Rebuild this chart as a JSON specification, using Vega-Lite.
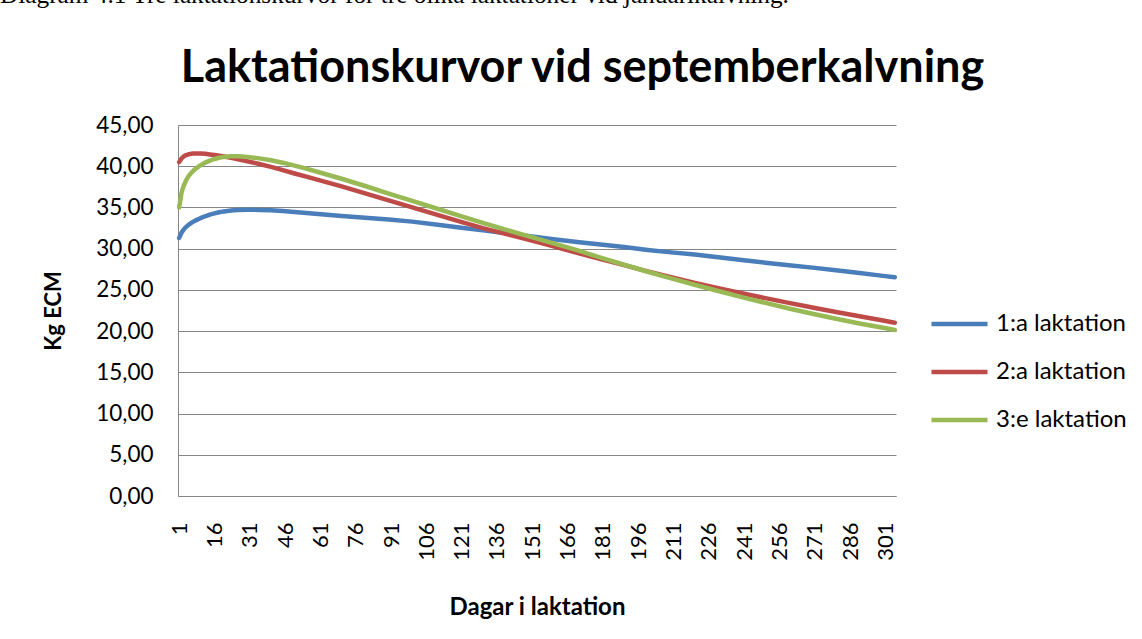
{
  "$schema": "https://vega.github.io/schema/vega-lite/v6.json",
  "width": 718,
  "height": 371,
  "autosize": {"type": "none"},
  "padding": {"left": 178, "top": 125, "right": 246, "bottom": 143},
  "background": "white",
  "title": {
    "text": "Diagram 4.1 Tre laktationskurvor för tre olika laktationer vid januarikalvning.",
    "anchor": "start",
    "frame": "bounds",
    "font": "Liberation Serif",
    "fontSize": 25.3,
    "fontWeight": "normal",
    "color": "#000000",
    "baseline": "alphabetic",
    "offset": 17,
    "dx": -42
  },
  "config": {
    "view": {"stroke": null},
    "axis": {"tickSize": 0}
  },
  "data": {
    "values": [
      {"dag": 1, "laktation": "1:a laktation", "kg": 31.3},
      {"dag": 2, "laktation": "1:a laktation", "kg": 31.95},
      {"dag": 3, "laktation": "1:a laktation", "kg": 32.35},
      {"dag": 4, "laktation": "1:a laktation", "kg": 32.65},
      {"dag": 5, "laktation": "1:a laktation", "kg": 32.9},
      {"dag": 6, "laktation": "1:a laktation", "kg": 33.1},
      {"dag": 7, "laktation": "1:a laktation", "kg": 33.28},
      {"dag": 8, "laktation": "1:a laktation", "kg": 33.43},
      {"dag": 10, "laktation": "1:a laktation", "kg": 33.7},
      {"dag": 12, "laktation": "1:a laktation", "kg": 33.93},
      {"dag": 14, "laktation": "1:a laktation", "kg": 34.12},
      {"dag": 16, "laktation": "1:a laktation", "kg": 34.28},
      {"dag": 18, "laktation": "1:a laktation", "kg": 34.42},
      {"dag": 20, "laktation": "1:a laktation", "kg": 34.52},
      {"dag": 23, "laktation": "1:a laktation", "kg": 34.63},
      {"dag": 26, "laktation": "1:a laktation", "kg": 34.7},
      {"dag": 30, "laktation": "1:a laktation", "kg": 34.72},
      {"dag": 35, "laktation": "1:a laktation", "kg": 34.7},
      {"dag": 40, "laktation": "1:a laktation", "kg": 34.65},
      {"dag": 45, "laktation": "1:a laktation", "kg": 34.56},
      {"dag": 50, "laktation": "1:a laktation", "kg": 34.45},
      {"dag": 55, "laktation": "1:a laktation", "kg": 34.33},
      {"dag": 60, "laktation": "1:a laktation", "kg": 34.2},
      {"dag": 70, "laktation": "1:a laktation", "kg": 33.97},
      {"dag": 80, "laktation": "1:a laktation", "kg": 33.75},
      {"dag": 90, "laktation": "1:a laktation", "kg": 33.53},
      {"dag": 100, "laktation": "1:a laktation", "kg": 33.28},
      {"dag": 110, "laktation": "1:a laktation", "kg": 32.93},
      {"dag": 120, "laktation": "1:a laktation", "kg": 32.58},
      {"dag": 130, "laktation": "1:a laktation", "kg": 32.22},
      {"dag": 140, "laktation": "1:a laktation", "kg": 31.86},
      {"dag": 150, "laktation": "1:a laktation", "kg": 31.5},
      {"dag": 160, "laktation": "1:a laktation", "kg": 31.15},
      {"dag": 170, "laktation": "1:a laktation", "kg": 30.82},
      {"dag": 180, "laktation": "1:a laktation", "kg": 30.5},
      {"dag": 190, "laktation": "1:a laktation", "kg": 30.2},
      {"dag": 200, "laktation": "1:a laktation", "kg": 29.85},
      {"dag": 210, "laktation": "1:a laktation", "kg": 29.55},
      {"dag": 220, "laktation": "1:a laktation", "kg": 29.28},
      {"dag": 230, "laktation": "1:a laktation", "kg": 28.95},
      {"dag": 240, "laktation": "1:a laktation", "kg": 28.62},
      {"dag": 250, "laktation": "1:a laktation", "kg": 28.3},
      {"dag": 260, "laktation": "1:a laktation", "kg": 28.0},
      {"dag": 270, "laktation": "1:a laktation", "kg": 27.7},
      {"dag": 280, "laktation": "1:a laktation", "kg": 27.38},
      {"dag": 290, "laktation": "1:a laktation", "kg": 27.05},
      {"dag": 300, "laktation": "1:a laktation", "kg": 26.7},
      {"dag": 305, "laktation": "1:a laktation", "kg": 26.53},
      {"dag": 1, "laktation": "2:a laktation", "kg": 40.5},
      {"dag": 2, "laktation": "2:a laktation", "kg": 40.95},
      {"dag": 3, "laktation": "2:a laktation", "kg": 41.2},
      {"dag": 4, "laktation": "2:a laktation", "kg": 41.35},
      {"dag": 5, "laktation": "2:a laktation", "kg": 41.45},
      {"dag": 6, "laktation": "2:a laktation", "kg": 41.5},
      {"dag": 7, "laktation": "2:a laktation", "kg": 41.53},
      {"dag": 8, "laktation": "2:a laktation", "kg": 41.55},
      {"dag": 10, "laktation": "2:a laktation", "kg": 41.55},
      {"dag": 12, "laktation": "2:a laktation", "kg": 41.5},
      {"dag": 14, "laktation": "2:a laktation", "kg": 41.43},
      {"dag": 16, "laktation": "2:a laktation", "kg": 41.35},
      {"dag": 18, "laktation": "2:a laktation", "kg": 41.27},
      {"dag": 20, "laktation": "2:a laktation", "kg": 41.18},
      {"dag": 23, "laktation": "2:a laktation", "kg": 41.02},
      {"dag": 26, "laktation": "2:a laktation", "kg": 40.85},
      {"dag": 30, "laktation": "2:a laktation", "kg": 40.6},
      {"dag": 35, "laktation": "2:a laktation", "kg": 40.27},
      {"dag": 40, "laktation": "2:a laktation", "kg": 39.92},
      {"dag": 45, "laktation": "2:a laktation", "kg": 39.52},
      {"dag": 50, "laktation": "2:a laktation", "kg": 39.12},
      {"dag": 55, "laktation": "2:a laktation", "kg": 38.73},
      {"dag": 60, "laktation": "2:a laktation", "kg": 38.35},
      {"dag": 70, "laktation": "2:a laktation", "kg": 37.55},
      {"dag": 80, "laktation": "2:a laktation", "kg": 36.7},
      {"dag": 90, "laktation": "2:a laktation", "kg": 35.85},
      {"dag": 100, "laktation": "2:a laktation", "kg": 35.0},
      {"dag": 110, "laktation": "2:a laktation", "kg": 34.15},
      {"dag": 120, "laktation": "2:a laktation", "kg": 33.3},
      {"dag": 130, "laktation": "2:a laktation", "kg": 32.5},
      {"dag": 140, "laktation": "2:a laktation", "kg": 31.77},
      {"dag": 150, "laktation": "2:a laktation", "kg": 31.03},
      {"dag": 160, "laktation": "2:a laktation", "kg": 30.28},
      {"dag": 170, "laktation": "2:a laktation", "kg": 29.5},
      {"dag": 180, "laktation": "2:a laktation", "kg": 28.75},
      {"dag": 190, "laktation": "2:a laktation", "kg": 28.0},
      {"dag": 200, "laktation": "2:a laktation", "kg": 27.25},
      {"dag": 210, "laktation": "2:a laktation", "kg": 26.55},
      {"dag": 220, "laktation": "2:a laktation", "kg": 25.85},
      {"dag": 230, "laktation": "2:a laktation", "kg": 25.2},
      {"dag": 240, "laktation": "2:a laktation", "kg": 24.6},
      {"dag": 250, "laktation": "2:a laktation", "kg": 24.0},
      {"dag": 260, "laktation": "2:a laktation", "kg": 23.42},
      {"dag": 270, "laktation": "2:a laktation", "kg": 22.86},
      {"dag": 280, "laktation": "2:a laktation", "kg": 22.32},
      {"dag": 290, "laktation": "2:a laktation", "kg": 21.8},
      {"dag": 300, "laktation": "2:a laktation", "kg": 21.28},
      {"dag": 305, "laktation": "2:a laktation", "kg": 21.02},
      {"dag": 1, "laktation": "3:e laktation", "kg": 35.0},
      {"dag": 2, "laktation": "3:e laktation", "kg": 36.8},
      {"dag": 3, "laktation": "3:e laktation", "kg": 37.7},
      {"dag": 4, "laktation": "3:e laktation", "kg": 38.3},
      {"dag": 5, "laktation": "3:e laktation", "kg": 38.8},
      {"dag": 6, "laktation": "3:e laktation", "kg": 39.15},
      {"dag": 7, "laktation": "3:e laktation", "kg": 39.45},
      {"dag": 8, "laktation": "3:e laktation", "kg": 39.7},
      {"dag": 10, "laktation": "3:e laktation", "kg": 40.1},
      {"dag": 12, "laktation": "3:e laktation", "kg": 40.43},
      {"dag": 14, "laktation": "3:e laktation", "kg": 40.68},
      {"dag": 16, "laktation": "3:e laktation", "kg": 40.88},
      {"dag": 18, "laktation": "3:e laktation", "kg": 41.03},
      {"dag": 20, "laktation": "3:e laktation", "kg": 41.13},
      {"dag": 23, "laktation": "3:e laktation", "kg": 41.2},
      {"dag": 26, "laktation": "3:e laktation", "kg": 41.2},
      {"dag": 30, "laktation": "3:e laktation", "kg": 41.12},
      {"dag": 35, "laktation": "3:e laktation", "kg": 40.95},
      {"dag": 40, "laktation": "3:e laktation", "kg": 40.72},
      {"dag": 45, "laktation": "3:e laktation", "kg": 40.43},
      {"dag": 50, "laktation": "3:e laktation", "kg": 40.08},
      {"dag": 55, "laktation": "3:e laktation", "kg": 39.7},
      {"dag": 60, "laktation": "3:e laktation", "kg": 39.3},
      {"dag": 70, "laktation": "3:e laktation", "kg": 38.48},
      {"dag": 80, "laktation": "3:e laktation", "kg": 37.6},
      {"dag": 90, "laktation": "3:e laktation", "kg": 36.68},
      {"dag": 100, "laktation": "3:e laktation", "kg": 35.8},
      {"dag": 110, "laktation": "3:e laktation", "kg": 34.9},
      {"dag": 120, "laktation": "3:e laktation", "kg": 34.0},
      {"dag": 130, "laktation": "3:e laktation", "kg": 33.12},
      {"dag": 140, "laktation": "3:e laktation", "kg": 32.28},
      {"dag": 150, "laktation": "3:e laktation", "kg": 31.45},
      {"dag": 160, "laktation": "3:e laktation", "kg": 30.65},
      {"dag": 170, "laktation": "3:e laktation", "kg": 29.82},
      {"dag": 180, "laktation": "3:e laktation", "kg": 28.92},
      {"dag": 190, "laktation": "3:e laktation", "kg": 28.05},
      {"dag": 200, "laktation": "3:e laktation", "kg": 27.2},
      {"dag": 210, "laktation": "3:e laktation", "kg": 26.4},
      {"dag": 220, "laktation": "3:e laktation", "kg": 25.62},
      {"dag": 230, "laktation": "3:e laktation", "kg": 24.86},
      {"dag": 240, "laktation": "3:e laktation", "kg": 24.12},
      {"dag": 250, "laktation": "3:e laktation", "kg": 23.42},
      {"dag": 260, "laktation": "3:e laktation", "kg": 22.75},
      {"dag": 270, "laktation": "3:e laktation", "kg": 22.1},
      {"dag": 280, "laktation": "3:e laktation", "kg": 21.5},
      {"dag": 290, "laktation": "3:e laktation", "kg": 20.93},
      {"dag": 300, "laktation": "3:e laktation", "kg": 20.4},
      {"dag": 305, "laktation": "3:e laktation", "kg": 20.14}
    ]
  },
  "encoding": {
    "y": {
      "field": "kg",
      "type": "quantitative",
      "scale": {"domain": [0, 45], "nice": false},
      "axis": {
        "values": [0, 5, 10, 15, 20, 25, 30, 35, 40, 45],
        "labelExpr": "replace(format(datum.value, '.2f'), '.', ',')",
        "labelPadding": 25,
        "labelFont": "Lato",
        "labelFontSize": 22.5,
        "labelColor": "#000000",
        "ticks": false,
        "grid": true,
        "gridColor": "#868686",
        "gridWidth": 1,
        "domain": true,
        "domainColor": "#868686",
        "domainWidth": 1,
        "title": "Kg ECM",
        "titleFont": "Lato",
        "titleFontSize": 22,
        "titleFontWeight": "bold",
        "titleColor": "#000000",
        "titleX": -125,
        "titleY": 185.5,
        "titleAlign": "center",
        "titleBaseline": "middle",
        "titleAngle": -90
      }
    }
  },
  "layer": [
    {
      "mark": {"type": "line", "strokeWidth": 4.5, "strokeCap": "round", "strokeJoin": "round"},
      "encoding": {
        "x": {
          "field": "dag",
          "type": "quantitative",
          "scale": {"domain": [0.5, 305.5], "nice": false, "zero": false},
          "axis": {
            "orient": "bottom",
            "values": [1, 16, 31, 46, 61, 76, 91, 106, 121, 136, 151, 166, 181, 196, 211, 226, 241, 256, 271, 286, 301],
            "labelAngle": -90,
            "labelAlign": "right",
            "labelBaseline": "middle",
            "labelPadding": 26,
            "labelFont": "Lato",
            "labelFontSize": 22,
            "labelColor": "#000000",
            "labelOverlap": false,
            "labelFlush": false,
            "ticks": false,
            "grid": false,
            "domainColor": "#868686",
            "domainWidth": 1,
            "title": "Dagar i laktation",
            "titleFont": "Lato",
            "titleFontSize": 24,
            "titleFontWeight": "bold",
            "titleColor": "#000000",
            "titleX": 359,
            "titleY": 118,
            "titleAlign": "center",
            "titleBaseline": "alphabetic"
          }
        },
        "color": {
          "field": "laktation",
          "type": "nominal",
          "scale": {
            "domain": ["1:a laktation", "2:a laktation", "3:e laktation"],
            "range": ["#4A7EBB", "#BE4B48", "#98B954"]
          },
          "legend": {
            "orient": "none",
            "legendX": 751,
            "legendY": 168.5,
            "title": null,
            "symbolType": "stroke",
            "symbolSize": 3136,
            "symbolStrokeWidth": 4.5,
            "labelFont": "Lato",
            "labelFontSize": 24,
            "labelColor": "#000000",
            "labelOffset": 6,
            "rowPadding": 5
          }
        }
      }
    },
    {
      "mark": {"type": "line", "strokeOpacity": 0},
      "encoding": {
        "x": {
          "field": "dag",
          "type": "quantitative",
          "scale": {"domain": [0.5, 305.5], "nice": false, "zero": false},
          "axis": {
            "orient": "top",
            "labels": false,
            "ticks": false,
            "domain": false,
            "grid": false,
            "title": "Laktationskurvor vid septemberkalvning",
            "titleFont": "Lato",
            "titleFontSize": 45,
            "titleFontWeight": "bold",
            "titleColor": "#000000",
            "titleX": 404,
            "titleY": -44,
            "titleAlign": "center",
            "titleBaseline": "alphabetic"
          }
        },
        "detail": {"field": "laktation", "type": "nominal"}
      }
    }
  ],
  "resolve": {"axis": {"x": "independent"}}
}
